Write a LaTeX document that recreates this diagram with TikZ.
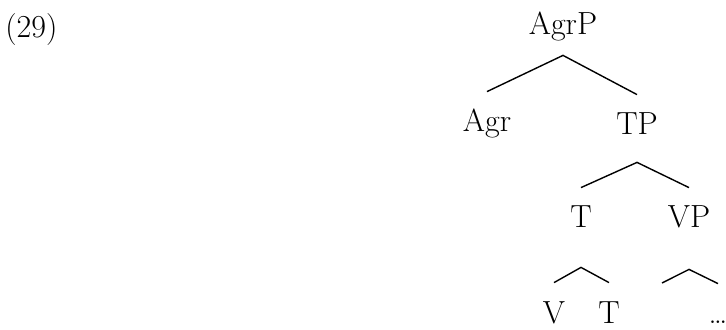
\documentclass[tikz,border=0pt]{standalone}
\usepackage{tikz}
\usetikzlibrary{positioning}

\begin{document}
\begin{tikzpicture}[
            x=0.5pt, y=-0.5pt,
            nodo/.style={anchor=base, inner xsep=0pt, inner ysep=9pt, text height=11pt, text depth=1pt, font=\fontsize{16}{19}\selectfont},
            rama/.style={line width=0.7pt}
        ]
        \useasboundingbox (0,0) rectangle (726,330);

        % Numero del ejemplo
        \node[nodo, anchor=base west] (ej) at (5,38) {(29)};

        % Nodo raiz y primer nivel
        \node[nodo] (agrp) at (563,35) {AgrP};
        \node[nodo] (agr) at (487,132) {Agr};
        \node[nodo, text depth=4.5pt] (tp) at (637,135) {TP};

        % Segundo nivel
        \node[nodo, text depth=10.5pt] (t) at (581,228) {T};
        \node[nodo, text depth=11.5pt] (vp) at (689,228) {VP};

        % Tercer nivel (la rama izquierda de VP queda sin etiqueta)
        \node[nodo] (v) at (554,323) {V};
        \node[nodo] (tt) at (609,323) {T};
        \node[nodo] (resto) at (718,324) {\dots};
        \coordinate (vacio) at (662,283);

        % Ramas
        \draw[rama] (agr.north) -- (agrp.south) -- (tp.north);
        \draw[rama] (t.north) -- (tp.south) -- (vp.north);
        \draw[rama] (v.north) -- (t.south) -- (tt.north);
        \draw[rama] (vacio) -- (vp.south) -- (resto.north);

    \end{tikzpicture}
\end{document}
